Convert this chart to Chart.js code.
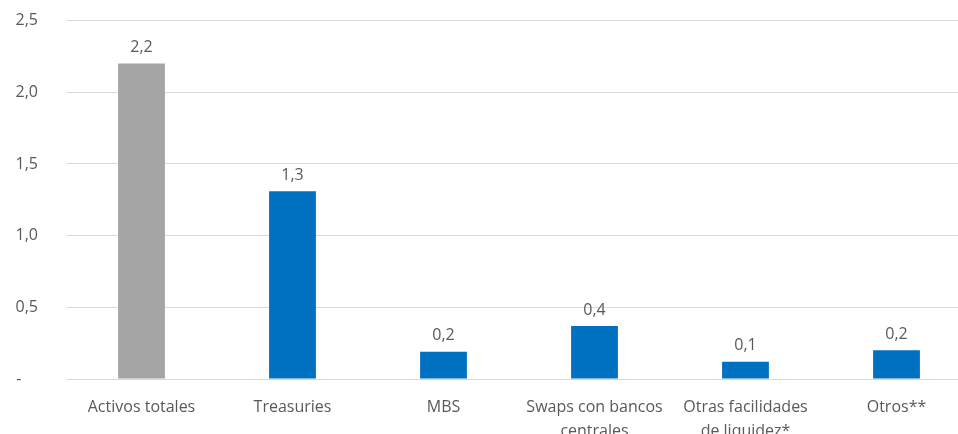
<!DOCTYPE html>
<html>
<head>
<meta charset="utf-8">
<script src="https://cdn.jsdelivr.net/npm/chart.js@4"></script>
<style>
html,body{margin:0;padding:0;background:#fff;overflow:hidden;}
#wrap{position:relative;width:974px;height:451px;margin-top:-17px;}
</style>
</head>
<body>
<div id="wrap"><canvas id="c"></canvas></div>
<script>
const categories = ["Activos totales", "Treasuries", "MBS", ["Swaps con bancos", "centrales"], ["Otras facilidades", "de liquidez*"], "Otros**"];
const values = [2.2, 1.31, 0.19, 0.37, 0.12, 0.2];
const valueLabels = ["2,2", "1,3", "0,2", "0,4", "0,1", "0,2"];
const barColors = ["#A5A5A5", "#0070C0", "#0070C0", "#0070C0", "#0070C0", "#0070C0"];
const yTicks = [0, 0.5, 1.0, 1.5, 2.0, 2.5];

const FONT = "'Open Sans', Lato, sans-serif";
const TXT = "#595959";

const dataLabelPlugin = {
  id: 'dataLabels',
  afterDatasetsDraw(chart) {
    const ctx = chart.ctx;
    const meta = chart.getDatasetMeta(0);
    ctx.save();
    ctx.font = "16px " + FONT;
    ctx.fillStyle = TXT;
    ctx.textAlign = 'center';
    ctx.textBaseline = 'bottom';
    meta.data.forEach((bar, i) => {
      ctx.fillText(valueLabels[i], bar.x, bar.y - 8);
    });
    ctx.restore();
  }
};

new Chart(document.getElementById('c'), {
  type: 'bar',
  data: {
    labels: categories,
    datasets: [{
      data: values,
      backgroundColor: barColors,
      borderWidth: 0,
      categoryPercentage: 1.0,
      barPercentage: 0.31
    }]
  },
  options: {
    responsive: true,
    maintainAspectRatio: false,
    animation: false,
    layout: { padding: { top: 12, right: 2, left: 0, bottom: 0 } },
    plugins: { legend: { display: false }, tooltip: { enabled: false } },
    scales: {
      x: {
        grid: { display: false },
        border: { display: false },
        ticks: { color: TXT, font: { family: FONT, size: 16, lineHeight: 1.5 }, padding: 8, maxRotation: 0, autoSkip: false },
        afterFit(scale) { scale.height = 55; }
      },
      y: {
        min: 0, max: 2.5,
        afterBuildTicks(scale) { scale.ticks = yTicks.map(v => ({ value: v })); },
        grid: { color: "#D9D9D9", lineWidth: 1, drawTicks: false },
        border: { display: false },
        ticks: {
          color: TXT, font: { family: FONT, size: 16 }, padding: 28,
          callback: (v) => v === 0 ? "-    " : v.toFixed(1).replace('.', ',')
        },
        afterFit(scale) { scale.width = 66; }
      }
    }
  },
  plugins: [dataLabelPlugin]
});
</script>
</body>
</html>
